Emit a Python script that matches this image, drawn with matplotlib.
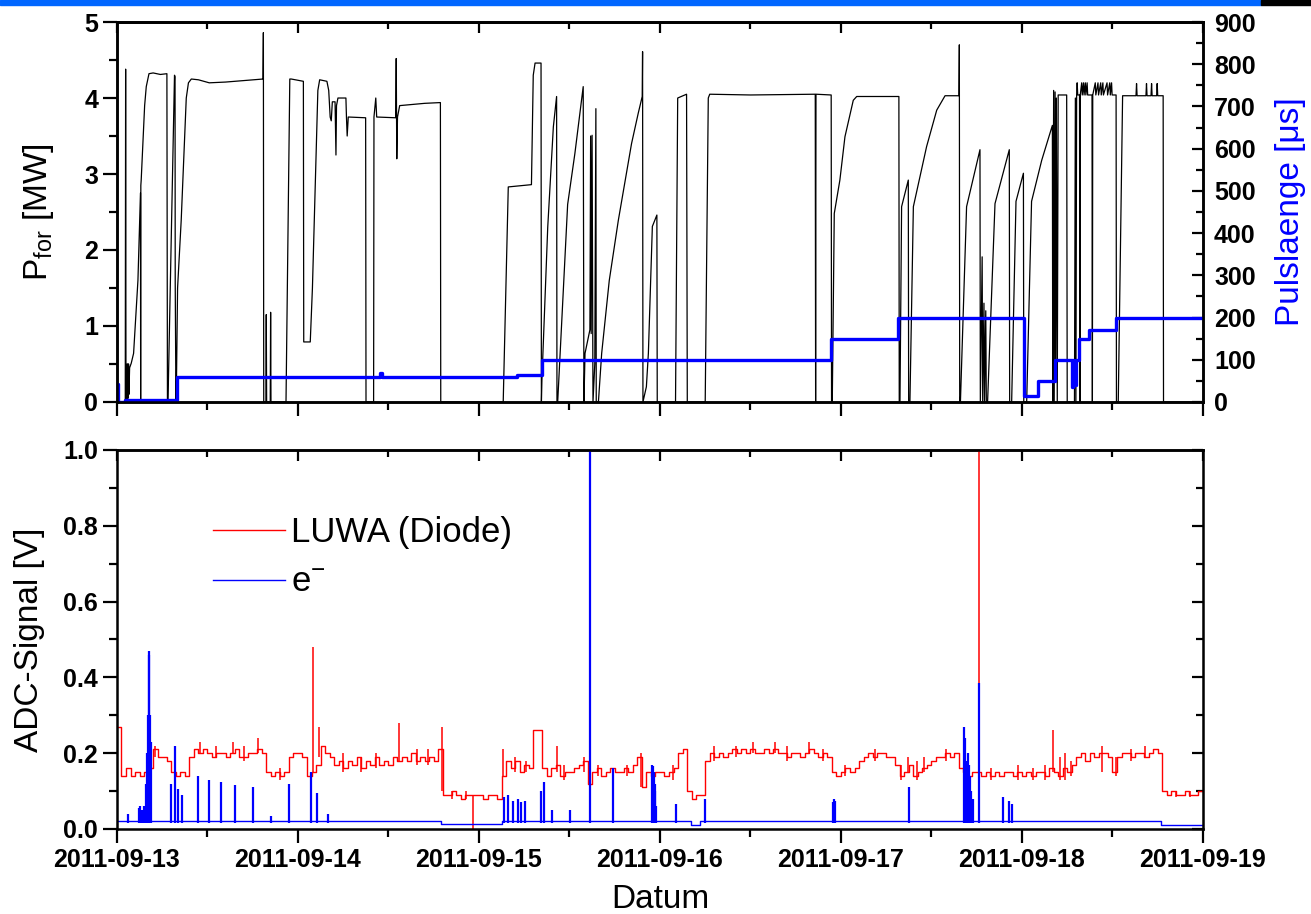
import numpy as np
import matplotlib
matplotlib.use("Agg")
import matplotlib.pyplot as plt
import matplotlib.dates as mdates
from matplotlib.patches import Rectangle

plt.rcParams['font.family'] = ['Liberation Sans', 'DejaVu Sans']
plt.rcParams['mathtext.fontset'] = 'custom'
plt.rcParams['mathtext.rm'] = 'Liberation Sans'

START = np.datetime64('2011-09-13T00:00:00')

# ---- top panel: forward power [MW] (days after 2011-09-13)
pf_t = [0, 0.046, 0.048, 0.050, 0.052, 0.054, 0.056, 0.058, 0.060, 0.062, 0.064, 0.066, 0.070,
        0.079, 0.092, 0.116, 0.130, 0.131, 0.132, 0.134, 0.153, 0.162, 0.177, 0.20, 0.24, 0.276, 0.279,
        0.282, 0.318, 0.321, 0.322, 0.326, 0.329, 0.335, 0.355, 0.383, 0.395, 0.411, 0.45, 0.51, 0.60,
        0.70, 0.807, 0.809, 0.811, 0.823, 0.825, 0.827, 0.847, 0.849, 0.851, 0.934, 0.955, 0.963, 1.030,
        1.032, 1.068, 1.080, 1.110, 1.120, 1.160, 1.170, 1.178, 1.184, 1.190, 1.205, 1.210, 1.213, 1.221,
        1.265, 1.268, 1.272, 1.278, 1.374, 1.376, 1.418, 1.420, 1.430, 1.435, 1.540, 1.543, 1.546, 1.550,
        1.562, 1.700, 1.787, 1.789,
        2.134, 2.162, 2.290, 2.300, 2.310, 2.343, 2.345, 2.348, 2.380, 2.411, 2.429, 2.431, 2.435, 2.490,
        2.530, 2.576, 2.580, 2.586, 2.613, 2.617, 2.620, 2.625, 2.630, 2.640, 2.646, 2.648, 2.660, 2.678,
        2.720, 2.770, 2.843, 2.880, 2.902, 2.904, 2.906, 2.925, 2.936, 2.958, 2.983, 2.985, 3.086, 3.098,
        3.147, 3.151, 3.250, 3.267, 3.275, 3.500, 3.858, 3.860, 3.862, 3.946, 3.948, 3.952, 3.963, 3.994,
        4.022, 4.068, 4.087, 4.320, 4.322, 4.326, 4.335, 4.372, 4.374, 4.381, 4.400, 4.473, 4.529, 4.575,
        4.652, 4.654, 4.656, 4.660, 4.694, 4.768, 4.770, 4.780, 4.783, 4.790, 4.793, 4.800, 4.803, 4.810,
        4.851, 4.930, 4.932, 4.943, 4.967, 5.008, 5.010, 5.026, 5.053, 5.109, 5.168, 5.170, 5.175, 5.178,
        5.183, 5.186, 5.190, 5.195, 5.200, 5.247, 5.250, 5.290, 5.295, 5.298, 5.302, 5.305, 5.308, 5.318,
        5.320, 5.322, 5.330, 5.333, 5.340, 5.343, 5.350, 5.353, 5.360, 5.363, 5.387, 5.389, 5.391, 5.405,
        5.408, 5.420, 5.423, 5.435, 5.438, 5.447, 5.450, 5.470, 5.473, 5.485, 5.488, 5.495, 5.498, 5.520,
        5.522, 5.532, 5.556, 5.630, 5.633, 5.636, 5.685, 5.688, 5.691, 5.713, 5.716, 5.719, 5.744, 5.747,
        5.750, 5.780, 5.782, 6.0]
pf_v = [0, 0, 4.38, 0, 0.30, 0, 0.50, 0.10, 0.50, 0.05, 0.50, 0.10, 0.45,
        0.51, 0.64, 1.60, 2.75, 0, 2.85, 2.92, 3.90, 4.15, 4.32, 4.33, 4.31, 4.32, 0,
        0, 4.30, 4.28, 1.56, 0, 0.30, 1.50, 2.39, 4.00, 4.20, 4.25, 4.24, 4.20, 4.21,
        4.23, 4.25, 4.86, 0, 0, 1.15, 0, 0, 1.18, 0, 0, 4.25, 4.25, 4.22,
        0.79, 0.79, 1.50, 4.10, 4.24, 4.22, 4.10, 3.75, 3.70, 3.95, 3.95, 3.25, 3.90, 4.00,
        4.00, 3.75, 3.50, 3.75, 3.74, 0, 0, 3.75, 4.00, 3.75, 3.74, 4.52, 3.20, 3.75,
        3.90, 3.93, 3.94, 0,
        0, 2.83, 2.86, 4.30, 4.46, 4.46, 0, 0.30, 2.30, 3.62, 4.02, 0, 0, 2.60,
        3.27, 4.15, 0, 0.64, 0.95, 3.50, 0.90, 3.51, 0, 0.50, 3.86, 0, 0, 0.64,
        1.60, 2.39, 3.40, 3.80, 4.02, 4.61, 0, 0.20, 0.64, 2.31, 2.46, 0, 0, 4.00,
        4.05, 0, 0, 4.00, 4.05, 4.04, 4.05, 0, 4.05, 4.04, 0, 0, 2.48, 2.92,
        3.49, 3.97, 4.02, 4.02, 0, 0, 2.57, 2.92, 0, 0, 2.57, 3.36, 3.84, 4.03,
        4.03, 4.70, 0, 0, 2.57, 3.32, 0, 1.91, 0, 1.30, 0, 1.20, 0, 0,
        2.61, 3.32, 0, 0, 2.64, 3.01, 0, 0, 2.64, 3.18, 3.64, 0, 4.10, 0,
        4.08, 0.50, 4.00, 0, 4.04, 4.04, 0, 0, 4.00, 0, 4.04, 4.20, 4.04, 4.04,
        0, 4.04, 4.20, 4.04, 4.20, 4.04, 4.20, 4.04, 4.20, 4.04, 4.04, 0, 4.04, 4.20,
        4.04, 4.20, 4.04, 4.20, 4.04, 4.20, 4.04, 4.20, 4.04, 4.20, 4.04, 4.20, 4.04, 4.04,
        0, 0, 4.03, 4.03, 4.19, 4.03, 4.03, 4.19, 4.03, 4.03, 4.19, 4.03, 4.03, 4.19,
        4.03, 4.03, 0, 0]

# ---- top panel: pulse length [us]
pl_t = [0, 0.004, 0.045, 0.331, 1.455, 1.465, 2.209, 2.346, 3.946, 4.316, 5.013, 5.090, 5.180,
        5.274, 5.280, 5.290, 5.300, 5.317, 5.372, 5.522, 6.0]
pl_v = [42, 0, 5, 60, 68, 60, 65, 100, 150, 200, 15, 50, 100,
        35, 100, 40, 100, 150, 170, 200, 200]

# ---- bottom panel: LUWA diode signal [V], one sample every 0.025 d
red_dt = 0.025
red_v = [0.27, 0.14, 0.16, 0.14, 0.15, 0.14, 0.15, 0.16, 0.21, 0.19, 0.19, 0.18, 0.15, 0.14, 0.15, 0.14,
         0.19, 0.21, 0.20, 0.21, 0.20, 0.19, 0.20, 0.20, 0.19, 0.20, 0.21, 0.19, 0.19, 0.20, 0.20, 0.21,
         0.20, 0.15, 0.14, 0.15, 0.14, 0.15, 0.19, 0.20,
         0.20, 0.19, 0.14, 0.15, 0.17, 0.22, 0.20, 0.19, 0.17, 0.18, 0.16, 0.18, 0.17, 0.19, 0.16, 0.18,
         0.17, 0.19, 0.17, 0.18, 0.17, 0.19, 0.18, 0.19, 0.18, 0.20, 0.18, 0.19, 0.18, 0.19, 0.18, 0.21,
         0.09, 0.09, 0.10, 0.09, 0.08, 0.09, 0.09, 0.09,
         0.09, 0.08, 0.09, 0.09, 0.08, 0.14, 0.18, 0.16, 0.18, 0.15, 0.17, 0.16, 0.26, 0.26, 0.16, 0.14,
         0.16, 0.17, 0.14, 0.15, 0.15, 0.16, 0.17, 0.18, 0.12, 0.15, 0.16, 0.14, 0.15, 0.16, 0.15, 0.15,
         0.16, 0.15, 0.17, 0.19, 0.11, 0.15, 0.14, 0.15,
         0.15, 0.14, 0.15, 0.16, 0.20, 0.21, 0.10, 0.08, 0.09, 0.09, 0.18, 0.20, 0.19, 0.20, 0.19, 0.20,
         0.21, 0.20, 0.21, 0.20, 0.21, 0.20, 0.20, 0.21, 0.20, 0.21, 0.20, 0.20, 0.19, 0.20, 0.20, 0.19,
         0.20, 0.21, 0.20, 0.19, 0.20, 0.19, 0.15, 0.14,
         0.15, 0.16, 0.15, 0.16, 0.18, 0.19, 0.20, 0.19, 0.20, 0.20, 0.19, 0.19, 0.17, 0.14, 0.15, 0.17,
         0.14, 0.15, 0.16, 0.17, 0.18, 0.19, 0.19, 0.20, 0.19, 0.20, 0.16, 0.15, 0.14, 0.15, 0.15, 0.14,
         0.15, 0.14, 0.15, 0.14, 0.15, 0.15, 0.14, 0.15,
         0.14, 0.15, 0.14, 0.15, 0.15, 0.14, 0.16, 0.15, 0.14, 0.16, 0.15, 0.17, 0.19, 0.20, 0.18, 0.20,
         0.19, 0.20, 0.20, 0.19, 0.15, 0.19, 0.20, 0.20, 0.19, 0.20, 0.20, 0.19, 0.20, 0.21, 0.20, 0.10,
         0.09, 0.10, 0.09, 0.09, 0.10, 0.09, 0.09, 0.10, 0.10]

# short excursions of the diode signal: time, low, high
red_spk_t = [0.643, 0.780, 1.084, 1.116, 1.559, 1.797, 1.966, 2.135, 2.430, 2.578, 2.895,
             3.516, 3.634, 3.822, 4.370, 4.460, 4.762, 5.171, 5.240, 5.440,
             0.210, 0.460, 0.550, 0.700, 0.900, 1.250, 1.350, 1.430, 1.660, 1.720, 1.850, 1.930,
             2.200, 2.260, 2.470, 2.660, 2.820, 3.070, 3.300, 3.420, 3.700, 3.900, 4.020, 4.190,
             4.330, 4.420, 4.580, 4.830, 4.980, 5.060, 5.130, 5.210, 5.270, 5.520, 5.600, 5.680,
             5.850, 5.930]
red_spk_lo = [0.20, 0.20, 0.15, 0.19, 0.18, 0.10, 0.00, 0.14, 0.15, 0.15, 0.11,
              0.20, 0.20, 0.20, 0.15, 0.15, 0.15, 0.15, 0.13, 0.15,
              0.19, 0.20, 0.19, 0.18, 0.13, 0.15, 0.15, 0.16, 0.17, 0.17, 0.08, 0.08,
              0.15, 0.15, 0.13, 0.14, 0.14, 0.13, 0.18, 0.19, 0.18, 0.18, 0.14, 0.18,
              0.13, 0.13, 0.18, 0.13, 0.13, 0.13, 0.13, 0.13, 0.14, 0.14, 0.18, 0.19,
              0.085, 0.085]
red_spk_hi = [0.23, 0.24, 0.48, 0.27, 0.28, 0.27, 0.09, 0.21, 0.22, 0.19, 0.20,
              0.23, 0.23, 0.23, 0.19, 0.19, 1.00, 0.26, 0.20, 0.22,
              0.22, 0.23, 0.22, 0.22, 0.16, 0.20, 0.19, 0.20, 0.21, 0.21, 0.10, 0.10,
              0.19, 0.18, 0.17, 0.17, 0.17, 0.17, 0.22, 0.22, 0.22, 0.21, 0.17, 0.21,
              0.17, 0.18, 0.21, 0.16, 0.17, 0.16, 0.17, 0.19, 0.18, 0.19, 0.21, 0.22,
              0.10, 0.10]

# ---- bottom panel: electron signal [V]
e_base_t = [0, 1.79, 2.13, 3.17, 3.22, 5.77, 6.0]
e_base_v = [0.020, 0.012, 0.020, 0.010, 0.020, 0.010, 0.010]
e_spk_t = [0.063, 0.120, 0.130, 0.140, 0.150, 0.160, 0.165, 0.170, 0.175, 0.178, 0.182, 0.187,
           0.300, 0.320, 0.338, 0.359, 0.449, 0.506, 0.574, 0.654, 0.753, 0.852, 0.949, 1.072,
           1.103, 1.167, 2.141, 2.162, 2.188, 2.213, 2.232, 2.257, 2.342, 2.361, 2.403, 2.504,
           2.616, 2.743, 2.955, 2.960, 2.965, 2.970, 2.975, 2.980, 3.089, 3.250, 3.955, 3.960,
           3.965, 4.375, 4.680, 4.685, 4.690, 4.695, 4.700, 4.705, 4.710, 4.715, 4.720, 4.728,
           4.762, 4.896, 4.931, 4.945]
e_spk_v = [0.040, 0.055, 0.060, 0.050, 0.060, 0.120, 0.200, 0.300, 0.470, 0.460, 0.300, 0.230,
           0.120, 0.220, 0.105, 0.090, 0.140, 0.130, 0.125, 0.115, 0.110, 0.035, 0.120, 0.150,
           0.095, 0.040, 0.085, 0.090, 0.075, 0.080, 0.070, 0.075, 0.100, 0.125, 0.050, 0.050,
           1.000, 0.160, 0.170, 0.165, 0.150, 0.120, 0.100, 0.060, 0.065, 0.080, 0.070, 0.080,
           0.075, 0.110, 0.270, 0.240, 0.170, 0.180, 0.200, 0.120, 0.170, 0.140, 0.100, 0.080,
           0.385, 0.085, 0.075, 0.065]


def to_dt(days):
    return START + (np.asarray(days, dtype=float) * 86400).astype('timedelta64[s]')


def style_x(ax, labels):
    ax.xaxis.set_major_locator(mdates.DayLocator())
    ax.xaxis.set_minor_locator(mdates.HourLocator(byhour=[12]))
    ax.xaxis.set_major_formatter(mdates.DateFormatter('%Y-%m-%d'))
    ax.tick_params(axis='x', which='major', direction='out', length=10, width=1.6,
                   labelsize=18, labelbottom=labels, pad=4)
    ax.tick_params(axis='x', which='minor', direction='out', length=6, width=1.6)
    for lab in ax.get_xticklabels():
        lab.set_fontweight('bold')
    top = ax.secondary_xaxis('top')
    top.xaxis.set_major_locator(mdates.DayLocator())
    top.xaxis.set_minor_locator(mdates.HourLocator(byhour=[12]))
    top.tick_params(axis='x', which='major', direction='in', length=8, width=1.6, labeltop=False)
    top.tick_params(axis='x', which='minor', direction='in', length=5, width=1.6)
    top.spines['top'].set_linewidth(1.8)


fig = plt.figure(figsize=(13.11, 9.14), dpi=100)
fig.patches.append(Rectangle((0, 0.9945), 0.962, 0.0055, transform=fig.transFigure,
                             color='#0066FF', zorder=10))
fig.patches.append(Rectangle((0.962, 0.9945), 0.038, 0.0055, transform=fig.transFigure,
                             color='black', zorder=10))

ax1 = fig.add_axes([0.0892, 0.5602, 0.8284, 0.4157])
ax3 = fig.add_axes([0.0892, 0.0930, 0.8284, 0.4147])

xmin, xmax = to_dt([0, 6])

# top panel
ax1.plot(to_dt(pf_t), pf_v, color='black', lw=0.9)
ax1.set_xlim(xmin, xmax)
ax1.set_ylim(0, 5)
ax1.set_yticks([0, 1, 2, 3, 4, 5])
ax1.set_yticks(np.arange(0.5, 5, 1), minor=True)
ax1.tick_params(axis='y', which='major', direction='out', length=10, width=1.6, labelsize=18)
ax1.tick_params(axis='y', which='minor', direction='out', length=6, width=1.6)
for lab in ax1.get_yticklabels():
    lab.set_fontweight('bold')
ax1.set_ylabel(r'P$_{\mathregular{for}}$ [MW]', fontsize=24)
ax1.yaxis.set_label_coords(-0.056, 0.5)
style_x(ax1, False)

ax2 = ax1.twinx()
ax2.plot(to_dt(pl_t), pl_v, color='#0000FF', lw=2.4, drawstyle='steps-post')
ax2.set_ylim(0, 900)
ax2.set_yticks(np.arange(0, 901, 100))
ax2.set_yticks(np.arange(50, 900, 100), minor=True)
ax2.tick_params(axis='y', which='major', direction='in', length=8, width=1.6, labelsize=18, pad=8)
ax2.tick_params(axis='y', which='minor', direction='in', length=5, width=1.6)
for lab in ax2.get_yticklabels():
    lab.set_fontweight('bold')
ax2.set_ylabel(u'Pulslaenge [\u03bcs]', fontsize=24, color='#0000FF')
ax2.yaxis.set_label_coords(1.066, 0.5)
ax2.set_xlim(xmin, xmax)

# bottom panel
red_t = np.arange(len(red_v)) * red_dt
ax3.plot(to_dt(red_t), red_v, color='#FF0000', lw=1.0, drawstyle='steps-post',
         label='LUWA (Diode)')
ax3.vlines(to_dt(red_spk_t), red_spk_lo, red_spk_hi, color='#FF0000', lw=1.1)
ax3.plot(to_dt(e_base_t), e_base_v, color='#0000FF', lw=1.0, drawstyle='steps-post',
         label=r'e$^{\mathregular{-}}$')
ax3.vlines(to_dt(e_spk_t), 0.015, e_spk_v, color='#0000FF', lw=1.6)
ax3.set_xlim(xmin, xmax)
ax3.set_ylim(0, 1.0)
ax3.set_yticks(np.arange(0, 1.01, 0.2))
ax3.set_yticks(np.arange(0.1, 1.0, 0.2), minor=True)
ax3.yaxis.set_major_formatter(matplotlib.ticker.FormatStrFormatter('%.1f'))
ax3.tick_params(axis='y', which='major', direction='out', length=10, width=1.6, labelsize=18)
ax3.tick_params(axis='y', which='minor', direction='out', length=6, width=1.6)
for lab in ax3.get_yticklabels():
    lab.set_fontweight('bold')
ax3.set_ylabel('ADC-Signal [V]', fontsize=24)
ax3.yaxis.set_label_coords(-0.066, 0.5)
ax3.set_xlabel('Datum', fontsize=24)
ax3.xaxis.set_label_coords(0.5, -0.145)
style_x(ax3, True)

right = ax3.secondary_yaxis('right')
right.set_yticks(np.arange(0, 1.01, 0.2))
right.set_yticks(np.arange(0.1, 1.0, 0.2), minor=True)
right.tick_params(axis='y', which='major', direction='in', length=8, width=1.6, labelright=False)
right.tick_params(axis='y', which='minor', direction='in', length=5, width=1.6)

ax3.legend(loc='upper left', bbox_to_anchor=(0.088, 0.826), frameon=False, fontsize=25,
           handlelength=2.1, handletextpad=0.15, labelspacing=0.5, borderpad=0,
           borderaxespad=0)

for ax in (ax1, ax2, ax3):
    for s in ax.spines.values():
        s.set_linewidth(1.8)

fig.savefig('out.png', dpi=100)
